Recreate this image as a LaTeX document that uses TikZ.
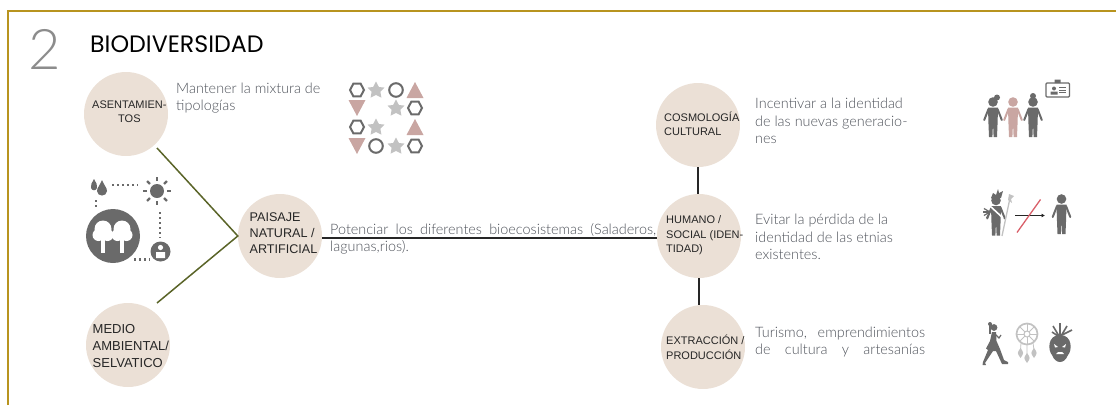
\documentclass[tikz,border=0pt]{standalone}
\usepackage{fontspec}
\setmainfont{Liberation Sans}
\newfontfamily\bodyfont{Lato Light}
\newfontfamily\titlefont{Poppins}
\usetikzlibrary{arrows.meta}
\definecolor{gold}{HTML}{B8941F}
\definecolor{beige}{HTML}{EBE0D6}
\definecolor{olive}{HTML}{5A6428}
\definecolor{bodygray}{HTML}{4E525A}
\definecolor{icongray}{HTML}{6A6A6A}
\definecolor{lightstar}{HTML}{C2C2C2}
\definecolor{rose}{HTML}{C9A6A2}
\definecolor{redline}{HTML}{D9606A}
\tikzset{
  x=1pt,y=-1pt,
  disc/.style={circle,fill=beige,minimum size=84pt,inner sep=0pt},
  lbl/.style={font=\fontsize{11}{14.5}\selectfont,text=black!85,align=left,anchor=west,inner sep=0pt},
  body/.style={font=\bodyfont\fontsize{14.4}{17.7}\selectfont,text=bodygray,align=left,anchor=west,inner sep=0pt},
  oliveline/.style={draw=olive,line width=1.5pt},
  blackline/.style={draw=black!85,line width=1.5pt},
  dots/.style={draw=icongray,line width=2.2pt,dash pattern=on 2.2pt off 2.8pt},
  pics/hexa/.style={code={\draw[icongray,line width=2pt] (-3.6,-6.4)--(3.6,-6.4)--(7,0)--(3.6,6.4)--(-3.6,6.4)--(-7,0)--cycle;}},
  pics/ring/.style={code={\draw[icongray,line width=2pt] (0,0) circle[radius=6.8pt];}},
  pics/stara/.style={code={\fill[lightstar] (0,-8.5)--(2.9,-3)--(8.5,-2.4)--(4.4,1.8)--(5.4,7.6)--(0,5)--(-5.4,7.6)--(-4.4,1.8)--(-8.5,-2.4)--(-2.9,-3)--cycle;}},
  pics/triup/.style={code={\fill[rose] (0,-8)--(8.5,8)--(-8.5,8)--cycle;}},
  pics/tridown/.style={code={\fill[rose] (0,8)--(8.5,-8)--(-8.5,-8)--cycle;}},
  pics/figure/.style={code={
    \fill[#1] (0,0) circle[radius=4.8pt];
    \fill[#1] (-5,5.5)--(5,5.5)--(4.6,20)--(4,35)--(0.6,35)--(0,21)--(-0.6,35)--(-4,35)--(-4.6,20)--cycle;
    \draw[#1,line width=2pt,line cap=round] (-4.5,7)--(-8.8,18) (4.5,7)--(8.8,18);
  }},
}
\begin{document}
\begin{tikzpicture}
\useasboundingbox (0,0) rectangle (1116,405);
% frame
\draw[gold,line width=2pt] (7.5,405)--(7.5,10.5)--(1116,10.5);
% heading
\node[inner sep=0pt,anchor=west,text=black!45,font=\bodyfont\fontsize{56}{56}\selectfont] (num) at (28,49) {2};
\node[inner sep=0pt,anchor=west,text=black,font=\titlefont\fontsize{23.7}{25}\selectfont] (title) at (90,44) {BIODIVERSIDAD};
% discs
\node[disc] (asen) at (126,114) {};
\node[disc] (pais) at (280,236) {};
\node[disc] (medio) at (128,345) {};
\node[disc] (cosmo) at (698,125) {};
\node[disc] (human) at (699,236) {};
\node[disc] (extra) at (703,347) {};
% disc labels
\node[lbl,align=center] (asenT) at (92,111.5) {ASENTAMIEN-\\TOS};
\node[lbl,font=\fontsize{12.6}{16.3}\selectfont] (paisT) at (249.5,233) {PAISAJE\\NATURAL /\\ARTIFICIAL};
\node[lbl,font=\fontsize{13}{17}\selectfont] (medioT) at (92.5,346) {MEDIO\\AMBIENTAL/\\SELVATICO};
\node[lbl] (cosmoT) at (664,124) {COSMOLOGÍA\\CULTURAL};
\node[lbl] (humanT) at (666,235.5) {HUMANO /\\SOCIAL (IDEN-\\TIDAD)};
\node[lbl] (extraT) at (666,347.5) {EXTRACCIÓN /\\PRODUCCIÓN};
% connectors
\coordinate (medioEnd) at (157,303);
\coordinate (asenEnd) at (157,148);
\draw[oliveline] (asenEnd)--(pais.west)--(medioEnd);
\draw[blackline] (pais.east |- 0,238)--(human.west |- 0,238);
\draw[blackline] (cosmo.south)--(cosmo.south |- human.north);
\draw[blackline] (human.south)--(human.south |- extra.north);
% body text
\node[body] (t1) at (176,98) {Mantener la mixtura de\\tipologías};
\node[body,anchor=south west] (t2a) at (330,236.5) {\makebox[326pt][s]{Potenciar los diferentes bioecosistemas (Saladeros,}};
\node[body,anchor=north west] (t2b) at (330,240.5) {lagunas,rios).};
\node[body] (t3) at (755,121) {Incentivar a la identidad\\de las nuevas generacio-\\nes};
\node[body] (t4) at (755,237) {Evitar la pérdida de la\\identidad de las etnias\\existentes.};
\node[body] (t5) at (755,342) {\makebox[170pt][s]{Turismo, emprendimientos}\\\makebox[170pt][s]{de cultura y artesanías}};
% shape mosaic
\pic at (357,90) {hexa}; \pic at (376,90) {stara}; \pic at (396,90) {ring}; \pic at (415,90) {triup};
\pic at (357,108) {tridown}; \pic at (396,108) {stara}; \pic at (415,108) {hexa};
\pic at (357,127) {hexa}; \pic at (376,127) {stara}; \pic at (415,127) {triup};
\pic at (357,146) {tridown}; \pic at (376,146) {ring}; \pic at (396,146) {stara}; \pic at (415,146) {hexa};
% ecology icon
\fill[icongray] (113,236) circle[radius=27pt];
\foreach \c in {103,122}{
  \fill[white] (\c,229) circle[radius=8.5pt] (\c-4.5,235) circle[radius=6pt] (\c+4.5,235) circle[radius=6pt];
  \fill[white] (\c-1.8,232) rectangle (\c+1.8,253);
}
\fill[icongray] (157,191) circle[radius=7pt];
\foreach \a in {0,45,...,315}{\draw[icongray,line width=2.4pt] (157,191)+({\a}:10pt)--+({\a}:14pt);}
\fill[icongray] (94,179)..controls (96,183) and (98,185) .. (97,188)..controls (96,191) and (92,191) .. (91,188)..controls (90,185) and (92,183) .. (94,179)--cycle;
\fill[icongray] (102,180)..controls (104,185) and (107,188) .. (107,191)..controls (107,197) and (97,197) .. (97,191)..controls (97,188) and (100,185) .. (102,180)--cycle;
\draw[dots] (112,185)--(138,185);
\draw[dots] (96,200)--(96,209);
\draw[dots] (160,212)--(160,238);
\draw[dots] (134,259.5)--(150,259.5);
\fill[icongray] (160.5,251.5) circle[radius=10pt];
\fill[white] (160.5,247.5) circle[radius=2.6pt] (156,258) rectangle (165,252);
% people group
\pic at (993,102) {figure=icongray};
\pic at (1013,102) {figure=rose};
\pic at (1033,102) {figure=icongray};
\fill[icongray] (997,97.5) circle[radius=3pt];
\fill[icongray] (1033,96) circle[radius=3pt];
\draw[icongray,line width=1.3pt,rounded corners=1pt] (1046,83) rectangle (1069.5,97);
\fill[icongray] (1054,88.5) circle[radius=2pt] (1050.5,94.5) rectangle (1057.5,91.5) (1054.5,79.5) rectangle (1060.5,83);
\draw[icongray,line width=.8pt] (1059,87.5)--(1066,87.5) (1059,90)--(1066,90) (1059,92.5)--(1066,92.5);
% indigenous figure
\pic at (996,200.5) {figure=icongray};
\fill[icongray] (991,198)--(993,193)--(996,195)--(998,189)--(999,193)--(1003,191)--(1001,198)--(992,199)--cycle;
\foreach \a in {150,180,210,240}{\draw[icongray,line width=1.2pt] (990,212)--+({\a}:7pt);}
\draw[white,line width=1.6pt] (990,206)--(1003,218);
\draw[lightstar,line width=1.3pt] (1002,236)--(1010,198);
\fill[lightstar] (1009,194)--(1014,196)--(1011,199)--(1012,203)--(1008,200)--cycle;
\coordinate (arrowA) at (1015,215.5);
\coordinate (arrowB) at (1045,215.5);
\draw[-{Latex[length=3.5pt,width=4pt]},black!85,line width=1.2pt] (arrowA)--(arrowB);
\coordinate (slashA) at (1017,232.5);
\coordinate (slashB) at (1040.5,199.5);
\draw[redline,line width=1.3pt] (slashA)--(slashB);
\pic at (1061.5,199) {figure=icongray};
% walker
\fill[icongray] (994,327.5) circle[radius=3.4pt] (990,324) circle[radius=2pt];
\draw[icongray,line width=1.6pt] (990,325)--(990,334);
\fill[icongray] (992,332)--(996,332)--(996.5,341)--(1000,349)--(1004,360)--(1008,362)--(1008,364)--(1002,364)--(996,351)--(993,351)--(985,363)--(986,365)--(982.5,365)--(983,362)--(988,350)--(986,348.5)--(990,341)--cycle;
\draw[icongray,line width=1.2pt] (995,334)--(999,338)--(1001,335);
% dreamcatcher
\draw[lightstar,line width=1.7pt] (1027,334) circle[radius=10.5pt];
\draw[lightstar,line width=1pt] (1027,334) circle[radius=3pt];
\foreach \a in {0,45,...,315}{\draw[lightstar,line width=.8pt] (1027,334)+({\a}:3pt)--+({\a}:10pt);}
\draw[lightstar,line width=.8pt] (1021,343)--(1020.5,350) (1027,345)--(1027,355) (1033,343)--(1034,350);
\foreach \p/\q in {1020.5/355,1027/360,1034/355}{\fill[lightstar] (\p,\q-7)..controls (\p+3.5,\q-2) .. (\p,\q+3)..controls (\p-3.5,\q-2) .. (\p,\q-7)--cycle;}
% mask
\fill[icongray] (1060,335)..controls (1073,335) and (1072,351) .. (1068,355)..controls (1066,360) and (1063,362) .. (1060,362)..controls (1057,362) and (1054,360) .. (1052,355)..controls (1048,351) and (1047,335) .. (1060,335)--cycle;
\draw[icongray,line width=1.6pt] (1060,336)--(1060,323) (1059,336)--(1053,326) (1061,336)--(1067,326) (1058,336)--(1052,332) (1062,335)--(1072,330);
\fill[white] (1054,344)--(1058,347)--(1055,347.5)--cycle (1066,344)--(1062,347)--(1065,347.5)--cycle;
\fill[white] (1056,354)--(1064,354)--(1062,352)--(1058,352)--cycle;
\end{tikzpicture}
\end{document}
